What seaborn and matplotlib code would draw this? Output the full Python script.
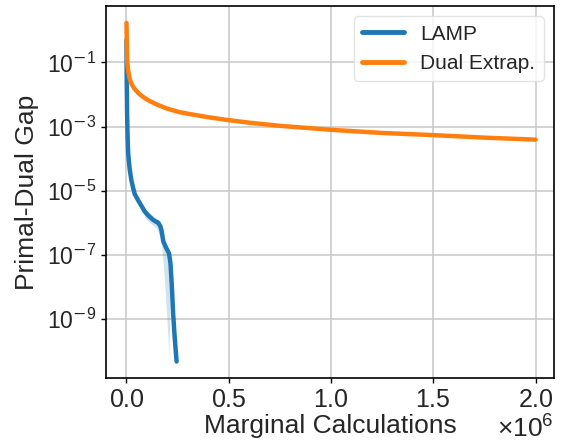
import numpy as np
import pandas as pd
import matplotlib
matplotlib.use("Agg")
import matplotlib.pyplot as plt
import seaborn as sns

# ---- data ----
dual_x = [0, 0.002e6, 0.004e6, 0.008e6, 0.015e6, 0.025e6, 0.04e6, 0.06e6, 0.08e6,
          0.106e6, 0.15e6, 0.2e6, 0.26e6, 0.334e6, 0.4e6, 0.5e6, 0.6e6, 0.75e6,
          1.0e6, 1.25e6, 1.5e6, 1.75e6, 2.0e6]
dual_gap = [1.7, 2.5e-1, 1.0e-1, 5.8e-2, 3.2e-2, 2.1e-2, 1.48e-2, 1.07e-2, 8.5e-3,
            6.6e-3, 4.8e-3, 3.6e-3, 2.8e-3, 2.3e-3, 1.95e-3, 1.58e-3, 1.32e-3, 1.05e-3,
            7.9e-4, 6.3e-4, 5.4e-4, 4.5e-4, 3.9e-4]

lamp_x = [0, 0.001e6, 0.003e6, 0.005e6, 0.008e6, 0.012e6, 0.016e6, 0.024e6, 0.032e6,
          0.04e6, 0.057e6, 0.075e6, 0.09e6, 0.11e6, 0.13e6, 0.145e6, 0.155e6, 0.165e6,
          0.171e6, 0.18e6, 0.195e6, 0.208e6, 0.215e6, 0.222e6, 0.228e6, 0.236e6, 0.245e6]
lamp_gap = [5.0e-1, 3.2e-2, 2.5e-3, 6.3e-4, 1.55e-4, 7.9e-5, 4.5e-5, 2.1e-5, 1.26e-5,
            7.9e-6, 5.0e-6, 3.2e-6, 2.2e-6, 1.6e-6, 1.23e-6, 1.07e-6, 1.0e-6, 7.9e-7,
            5.9e-7, 2.6e-7, 1.6e-7, 1.1e-7, 5.5e-8, 1.0e-8, 1.5e-9, 2.5e-10, 4.7e-11]
lamp_lo = [5.0e-1, 3.0e-2, 2.3e-3, 5.8e-4, 1.4e-4, 7.2e-5, 4.1e-5, 1.9e-5, 1.15e-5,
           7.2e-6, 4.5e-6, 2.9e-6, 1.4e-6, 1.05e-6, 8.3e-7, 7.1e-7, 5.0e-7, 3.5e-7,
           2.0e-7, 5.0e-8, 2.0e-9, 6.3e-11, 4.6e-8, 8.5e-9, 1.3e-9, 2.2e-10, 4.7e-11]
lamp_hi = [5.0e-1, 3.4e-2, 2.7e-3, 6.8e-4, 1.7e-4, 8.6e-5, 4.9e-5, 2.3e-5, 1.38e-5,
           8.6e-6, 5.5e-6, 3.5e-6, 2.8e-6, 2.1e-6, 1.66e-6, 1.4e-6, 1.26e-6, 1.1e-6,
           8.9e-7, 4.5e-7, 2.2e-7, 1.4e-7, 7.9e-8, 1.3e-8, 1.9e-9, 3.0e-10, 4.7e-11]

y_ticks = [1e-1, 1e-3, 1e-5, 1e-7, 1e-9]
y_exponents = ["1", "3", "5", "7", "9"]
x_ticks = [0, 0.5e6, 1.0e6, 1.5e6, 2.0e6]

lamp_df = pd.DataFrame({"x": lamp_x, "gap": lamp_gap, "method": "LAMP"})
dual_df = pd.DataFrame({"x": dual_x, "gap": dual_gap, "method": "Dual Extrap."})

# ---- style ----
sns.set_style("whitegrid")
plt.rcParams["font.family"] = ["Liberation Sans", "DejaVu Sans"]
plt.rcParams["mathtext.fontset"] = "custom"
plt.rcParams["mathtext.rm"] = "Liberation Sans"
plt.rcParams["mathtext.it"] = "Liberation Sans:italic"
plt.rcParams["mathtext.sf"] = "DejaVu Sans"

fig = plt.figure(figsize=(5.61, 4.42), dpi=100)
ax = fig.add_axes([0.189, 0.145, 0.7985, 0.8415])

blue = "#1f77b4"
orange = "#ff7f0e"

ax.fill_between(lamp_x, lamp_lo, lamp_hi, color=blue, alpha=0.2, linewidth=0)
sns.lineplot(data=lamp_df, x="x", y="gap", ax=ax, color=blue, linewidth=3.2,
             label="LAMP", errorbar=None)
sns.lineplot(data=dual_df, x="x", y="gap", ax=ax, color=orange, linewidth=3.2,
             label="Dual Extrap.", errorbar=None)

ax.set_yscale("log")
ax.set_ylim(10**-10.84, 10**0.76)
ax.set_xlim(-0.1e6, 2.09e6)
ax.set_yticks(y_ticks)
ax.set_yticklabels([r"$10^{\mathsf{-}" + e + "}$" for e in y_exponents])
ax.yaxis.set_minor_locator(matplotlib.ticker.NullLocator())
ax.set_xticks(x_ticks)
ax.ticklabel_format(axis="x", style="sci", scilimits=(0, 0), useMathText=True)

ax.set_xlabel("Marginal Calculations", fontsize=19, labelpad=2)
ax.set_ylabel("Primal-Dual Gap", fontsize=19, labelpad=6)
ax.tick_params(axis="both", length=3.5, width=1, color="black",
               direction="out", left=True, bottom=True)
ax.tick_params(axis="x", labelsize=18)
ax.tick_params(axis="y", labelsize=16.5)
ax.xaxis.get_offset_text().set_fontsize(19)

for s in ax.spines.values():
    s.set_color("black")
    s.set_linewidth(1.2)
ax.grid(True, color="#cccccc", linewidth=1.2)

leg = ax.legend(loc="upper right", fontsize=15, frameon=True, handlelength=2.0,
                borderaxespad=0.5)
leg.get_frame().set_edgecolor("#dddddd")
for line in leg.get_lines():
    line.set_linewidth(3.5)

fig.savefig("out.png", dpi=100)
